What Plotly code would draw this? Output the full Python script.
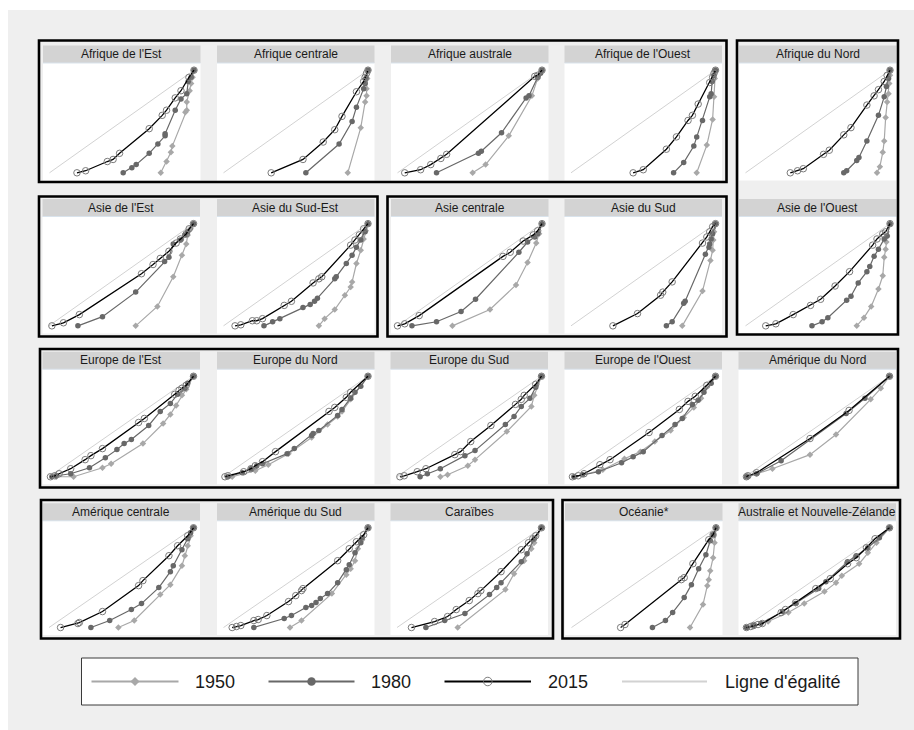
import plotly.graph_objects as go

# ---------------- data ----------------
REGIONS = [
    "Afrique de l'Est", "Afrique centrale", "Afrique australe", "Afrique de l'Ouest", "Afrique du Nord",
    "Asie de l'Est", "Asie du Sud-Est", "Asie centrale", "Asie du Sud", "Asie de l'Ouest",
    "Europe de l'Est", "Europe du Nord", "Europe du Sud", "Europe de l'Ouest", "Amérique du Nord",
    "Amérique centrale", "Amérique du Sud", "Caraïbes", "Océanie*", "Australie et Nouvelle-Zélande",
]

YEARS = ["1950", "1980", "2015"]
EQUALITY_X = [0, 1]
EQUALITY_Y = [0, 1]

P1950 = [
    [(0.77,0),(0.81,0.11),(0.84,0.20),(0.85,0.26),(0.94,0.59),(0.95,0.61),(0.95,0.69),(0.97,0.80),(0.98,0.87),(0.99,0.93),(1,1)],
    [(0.86,0),(0.95,0.44),(0.98,0.69),(0.99,0.75),(0.99,0.82),(0.995,0.92),(1,1)],
    [(0.52,0),(0.61,0.08),(0.77,0.36),(0.93,0.75),(0.97,0.92),(1,1)],
    [(0.87,0),(0.94,0.27),(0.98,0.52),(0.99,0.74),(0.995,0.92),(1,1)],
    [(0.91,0),(0.93,0.06),(0.95,0.20),(0.96,0.31),(0.97,0.54),(0.98,0.69),(0.99,0.77),(0.995,0.87),(1,0.95),(1,1)],
    [(0.60,0),(0.75,0.19),(0.86,0.48),(0.92,0.69),(0.95,0.80),(0.96,0.89),(0.98,0.95),(1,1)],
    [(0.66,0),(0.70,0.07),(0.77,0.16),(0.84,0.30),(0.88,0.38),(0.89,0.43),(0.92,0.61),(0.95,0.74),(0.97,0.85),(0.985,0.93),(1,1)],
    [(0.38,0),(0.64,0.16),(0.82,0.40),(0.90,0.62),(0.96,0.81),(0.98,0.90),(1,1)],
    [(0.77,0),(0.91,0.34),(0.965,0.64),(0.98,0.74),(0.985,0.84),(0.99,0.92),(1,1)],
    [(0.77,0),(0.82,0.08),(0.87,0.19),(0.92,0.36),(0.95,0.49),(0.96,0.67),(0.97,0.75),(0.975,0.82),(0.98,0.88),(1,1)],
    [(0.05,0),(0.17,0),(0.37,0.09),(0.43,0.13),(0.65,0.33),(0.79,0.53),(0.84,0.62),(0.88,0.71),(0.92,0.81),(0.95,0.87),(1,1)],
    [(0.06,0),(0.22,0.06),(0.31,0.12),(0.45,0.23),(0.61,0.39),(0.72,0.52),(0.79,0.60),(0.82,0.65),(0.88,0.77),(1,1)],
    [(0.30,0),(0.35,0.02),(0.49,0.11),(0.54,0.17),(0.76,0.45),(0.93,0.70),(0.95,0.81),(1,1)],
    [(0.03,0),(0.22,0.07),(0.37,0.18),(0.48,0.25),(0.58,0.35),(0.69,0.46),(0.78,0.59),(0.85,0.69),(0.90,0.78),(0.93,0.88),(1,1)],
    [(0.02,0),(0.19,0.08),(0.45,0.22),(0.63,0.42),(0.87,0.77),(0.94,0.88),(1,1)],
    [(0.48,0),(0.59,0.07),(0.77,0.33),(0.84,0.43),(0.92,0.62),(0.94,0.72),(0.96,0.82),(0.98,0.92),(1,1)],
    [(0.46,0),(0.54,0.07),(0.75,0.34),(0.85,0.53),(0.88,0.59),(0.91,0.67),(0.93,0.79),(0.96,0.88),(1,1)],
    [(0.42,0),(0.75,0.38),(0.81,0.54),(0.88,0.67),(0.93,0.79),(0.95,0.85),(1,1)],
    [(0.82,0),(0.91,0.23),(0.94,0.42),(0.95,0.48),(0.96,0.57),(0.98,0.70),(0.99,0.85),(1,1)],
    [(0.02,0),(0.16,0.06),(0.30,0.15),(0.41,0.24),(0.55,0.36),(0.63,0.45),(0.67,0.52),(0.79,0.64),(0.85,0.75),(0.91,0.85),(1,1)],
]

P1980 = [
    [(0.51,0),(0.57,0.05),(0.60,0.08),(0.69,0.19),(0.75,0.28),(0.80,0.36),(0.80,0.38),(0.87,0.61),(0.91,0.72),(0.95,0.77),(0.96,0.89),(0.98,0.93),(1,1)],
    [(0.57,0),(0.80,0.28),(0.89,0.50),(0.92,0.64),(0.97,0.82),(0.98,0.87),(0.985,0.92),(1,1)],
    [(0.27,0),(0.56,0.19),(0.58,0.21),(0.72,0.39),(0.89,0.73),(0.91,0.75),(0.97,0.93),(0.99,0.97),(1,1)],
    [(0.71,0),(0.78,0.10),(0.85,0.26),(0.87,0.35),(0.91,0.51),(0.96,0.74),(0.97,0.77),(0.977,0.89),(0.99,0.95),(1,1)],
    [(0.68,0),(0.70,0.02),(0.77,0.12),(0.785,0.15),(0.84,0.31),(0.92,0.56),(0.96,0.74),(0.975,0.84),(0.99,0.92),(1,1)],
    [(0.20,0),(0.37,0.09),(0.60,0.33),(0.80,0.63),(0.83,0.67),(0.86,0.80),(0.91,0.84),(0.94,0.89),(0.96,0.92),(1,1)],
    [(0.28,0),(0.34,0.04),(0.39,0.07),(0.55,0.18),(0.60,0.21),(0.63,0.24),(0.65,0.27),(0.77,0.46),(0.78,0.48),(0.85,0.61),(0.89,0.69),(0.92,0.77),(0.95,0.84),(0.98,0.92),(1,1)],
    [(0.10,0),(0.27,0.04),(0.44,0.14),(0.54,0.26),(0.84,0.72),(0.90,0.82),(0.95,0.87),(0.97,0.90),(1,1)],
    [(0.66,0),(0.70,0.04),(0.78,0.22),(0.79,0.24),(0.93,0.70),(0.955,0.77),(0.96,0.80),(0.97,0.85),(0.98,0.90),(1,1)],
    [(0.46,0),(0.53,0.04),(0.57,0.08),(0.70,0.25),(0.73,0.29),(0.78,0.42),(0.84,0.53),(0.86,0.58),(0.89,0.68),(0.92,0.75),(0.96,0.85),(0.98,0.88),(1,1)],
    [(0.02,0),(0.05,0.01),(0.15,0.03),(0.28,0.09),(0.39,0.19),(0.47,0.27),(0.52,0.33),(0.57,0.37),(0.69,0.51),(0.77,0.65),(0.84,0.73),(0.89,0.82),(0.94,0.88),(0.96,0.93),(1,1)],
    [(0.03,0),(0.13,0.04),(0.19,0.08),(0.23,0.11),(0.27,0.13),(0.44,0.23),(0.49,0.28),(0.61,0.41),(0.62,0.43),(0.66,0.46),(0.79,0.61),(0.82,0.67),(0.88,0.78),(0.91,0.84),(0.95,0.90),(1,1)],
    [(0.16,0),(0.21,0.03),(0.30,0.08),(0.47,0.21),(0.54,0.26),(0.75,0.52),(0.81,0.60),(0.86,0.70),(0.92,0.78),(0.96,0.89),(1,1)],
    [(0.02,0),(0.08,0.02),(0.19,0.05),(0.35,0.14),(0.43,0.20),(0.50,0.25),(0.63,0.41),(0.72,0.52),(0.77,0.58),(0.84,0.72),(0.88,0.76),(0.92,0.84),(0.97,0.93),(1,1)],
    [(0.01,0),(0.08,0.03),(0.25,0.16),(0.70,0.63),(0.83,0.78),(1,1)],
    [(0.29,0),(0.42,0.07),(0.57,0.18),(0.64,0.24),(0.76,0.40),(0.84,0.56),(0.86,0.62),(0.92,0.78),(0.96,0.89),(0.98,0.95),(1,1)],
    [(0.21,0),(0.42,0.09),(0.47,0.12),(0.57,0.20),(0.61,0.22),(0.64,0.25),(0.67,0.29),(0.72,0.34),(0.79,0.45),(0.85,0.58),(0.87,0.63),(0.91,0.75),(0.95,0.85),(0.96,0.90),(1,1)],
    [(0.20,0),(0.33,0.07),(0.47,0.14),(0.64,0.33),(0.69,0.40),(0.72,0.45),(0.86,0.66),(0.90,0.74),(0.95,0.89),(1,1)],
    [(0.56,0),(0.65,0.07),(0.70,0.15),(0.78,0.30),(0.83,0.43),(0.88,0.59),(0.93,0.73),(0.96,0.87),(0.98,0.93),(1,1)],
    [(0.01,0),(0.06,0.02),(0.11,0.04),(0.26,0.16),(0.35,0.24),(0.51,0.39),(0.56,0.46),(0.71,0.66),(0.77,0.72),(0.85,0.80),(0.93,0.90),(1,1)],
]

P2015 = [
    [(0.19,0),(0.25,0.02),(0.40,0.11),(0.44,0.13),(0.485,0.19),(0.69,0.43),(0.78,0.56),(0.81,0.61),(0.87,0.73),(0.91,0.80),(0.965,0.93),(1,1)],
    [(0.33,0),(0.55,0.13),(0.69,0.30),(0.77,0.42),(0.82,0.55),(0.92,0.79),(0.97,0.89),(0.98,0.93),(0.99,0.97),(1,1)],
    [(0.05,0),(0.16,0.03),(0.23,0.08),(0.30,0.14),(0.34,0.18),(0.95,0.94),(0.97,0.95),(1,1)],
    [(0.43,0),(0.50,0.03),(0.66,0.23),(0.73,0.35),(0.81,0.51),(0.84,0.56),(0.88,0.67),(0.96,0.88),(0.98,0.93),(0.99,0.97),(1,1)],
    [(0.31,0),(0.36,0.02),(0.40,0.04),(0.54,0.18),(0.58,0.22),(0.68,0.37),(0.73,0.44),(0.84,0.66),(0.89,0.75),(0.92,0.81),(0.96,0.89),(0.98,0.95),(1,1)],
    [(0.02,0),(0.10,0.03),(0.21,0.11),(0.64,0.51),(0.72,0.60),(0.77,0.66),(0.83,0.73),(0.88,0.81),(0.91,0.85),(0.95,0.90),(0.97,0.95),(1,1)],
    [(0.08,0),(0.12,0.01),(0.20,0.05),(0.23,0.05),(0.27,0.07),(0.42,0.20),(0.47,0.24),(0.62,0.42),(0.66,0.46),(0.68,0.48),(0.88,0.79),(0.91,0.84),(0.94,0.89),(0.97,0.95),(1,1)],
    [(0.0,0),(0.05,0.02),(0.15,0.10),(0.73,0.68),(0.78,0.72),(0.87,0.83),(0.94,0.89),(0.97,0.93),(1,1)],
    [(0.29,0),(0.46,0.12),(0.62,0.30),(0.635,0.33),(0.70,0.43),(0.91,0.81),(0.94,0.87),(0.96,0.92),(0.98,0.97),(1,1)],
    [(0.14,0),(0.21,0.02),(0.33,0.11),(0.45,0.20),(0.52,0.26),(0.62,0.39),(0.72,0.53),(0.88,0.79),(0.91,0.85),(0.95,0.90),(0.97,0.92),(1,1)],
    [(0.01,0),(0.04,0.01),(0.07,0.03),(0.15,0.08),(0.25,0.17),(0.29,0.21),(0.37,0.28),(0.62,0.54),(0.66,0.58),(0.87,0.82),(0.90,0.86),(0.92,0.88),(0.95,0.91),(1,1)],
    [(0.01,0),(0.03,0.01),(0.14,0.05),(0.19,0.08),(0.22,0.11),(0.27,0.15),(0.36,0.25),(0.73,0.65),(0.77,0.69),(0.85,0.79),(0.88,0.84),(1,1)],
    [(0.02,0),(0.05,0.01),(0.14,0.05),(0.20,0.08),(0.40,0.22),(0.44,0.25),(0.51,0.35),(0.65,0.51),(0.82,0.72),(0.86,0.77),(0.88,0.81),(0.96,0.92),(1,1)],
    [(0.01,0),(0.05,0.01),(0.09,0.03),(0.20,0.12),(0.27,0.17),(0.54,0.44),(0.75,0.67),(0.81,0.75),(0.86,0.80),(0.94,0.91),(1,1)],
    [(0.01,0),(0.02,0.01),(0.08,0.04),(0.45,0.38),(0.72,0.66),(1,1)],
    [(0.08,0),(0.20,0.04),(0.21,0.05),(0.37,0.16),(0.62,0.42),(0.65,0.47),(0.83,0.72),(0.89,0.82),(0.96,0.92),(1,1)],
    [(0.06,0),(0.09,0.01),(0.12,0.02),(0.21,0.07),(0.24,0.08),(0.30,0.12),(0.45,0.26),(0.50,0.32),(0.54,0.37),(0.55,0.39),(0.79,0.67),(0.87,0.79),(0.92,0.86),(0.97,0.93),(1,1)],
    [(0.10,0),(0.26,0.06),(0.35,0.11),(0.41,0.18),(0.50,0.27),(0.56,0.34),(0.58,0.37),(0.72,0.56),(0.86,0.78),(0.91,0.85),(0.94,0.89),(0.96,0.92),(1,1)],
    [(0.34,0),(0.37,0.03),(0.76,0.48),(0.78,0.50),(0.84,0.64),(0.95,0.88),(0.98,0.93),(1,1)],
    [(0.01,0),(0.04,0.01),(0.06,0.02),(0.09,0.03),(0.12,0.04),(0.25,0.15),(0.28,0.18),(0.35,0.25),(0.49,0.39),(0.59,0.49),(0.71,0.64),(0.77,0.70),(0.84,0.80),(0.90,0.89),(1,1)],
]

LEGEND_LABELS = ["1950", "1980", "2015", "Ligne d'égalité"]

# ---------------- layout geometry (pixels) ----------------
W, H = 914, 730
PANEL_W = 157.5
HEAD_H = 17.5
# header top and plot bottom per row
ROWS = [(45.5, 180.5), (199.0, 333.5), (351.7, 484.3), (503.3, 635.0)]
PANEL_LEFT = [
    43, 217, 391, 564.5, 739,
    42.5, 217, 391, 564.5, 739,
    42.5, 217, 390.5, 564.5, 738.5,
    42.5, 217, 390.5, 565, 738.5,
]
PANEL_ROW = [0]*5 + [1]*5 + [2]*5 + [3]*5
BOXES = [
    (39, 40.5, 726.5, 182), (737, 40.5, 898, 334.5),
    (39, 196.5, 377.5, 336.5), (387.5, 196.5, 726.5, 336.5),
    (40, 349, 898, 487.5),
    (41, 500, 553, 638.5), (562.5, 500, 900, 638.5),
]

STYLE = {
    "1950": dict(line=dict(color="#a8a8a8", width=1.2),
                 marker=dict(symbol="diamond", size=5, color="#a8a8a8")),
    "1980": dict(line=dict(color="#686868", width=1.2),
                 marker=dict(symbol="circle", size=5.5, color="#686868")),
    "2015": dict(line=dict(color="#000000", width=1.3),
                 marker=dict(symbol="circle-open", size=6.5, color="#7a7a7a", line=dict(width=1))),
}
EQ_COLOR = "#d2d2d2"
FONT = "Liberation Sans, Arial, sans-serif"


def fx(x):
    return x / W


def fy(y):
    return 1 - y / H


fig = go.Figure()
layout = {}
shapes = []
annotations = []

# background
shapes.append(dict(type="rect", xref="paper", yref="paper", x0=fx(8), x1=fx(914), y0=fy(730), y1=fy(10),
                   fillcolor="#efefef", line=dict(width=0), layer="below"))

series = {"1950": P1950, "1980": P1980, "2015": P2015}

for i, name in enumerate(REGIONS):
    k = i + 1
    left = PANEL_LEFT[i]
    top, bottom = ROWS[PANEL_ROW[i]]
    xa = "xaxis" if k == 1 else f"xaxis{k}"
    ya = "yaxis" if k == 1 else f"yaxis{k}"
    xr = "x" if k == 1 else f"x{k}"
    yr = "y" if k == 1 else f"y{k}"
    layout[xa] = dict(domain=[fx(left), fx(left + PANEL_W)], range=[-0.045, 1.045], visible=False,
                      fixedrange=True, anchor=yr)
    layout[ya] = dict(domain=[fy(bottom), fy(top + HEAD_H)], range=[-0.075, 1.07], visible=False,
                      fixedrange=True, anchor=xr)
    # white plotting area
    shapes.append(dict(type="rect", xref="paper", yref="paper", x0=fx(left), x1=fx(left + PANEL_W),
                       y0=fy(bottom), y1=fy(top + HEAD_H), fillcolor="white",
                       line=dict(width=0), layer="below"))
    # equality line
    fig.add_trace(go.Scatter(x=EQUALITY_X, y=EQUALITY_Y, mode="lines", xaxis=xr, yaxis=yr,
                             line=dict(color=EQ_COLOR, width=1), showlegend=False, hoverinfo="skip"))
    for yr_name in YEARS:
        pts = series[yr_name][i]
        fig.add_trace(go.Scatter(x=[p[0] for p in pts], y=[p[1] for p in pts], mode="lines+markers",
                                 xaxis=xr, yaxis=yr, showlegend=False, name=yr_name,
                                 **STYLE[yr_name]))
    # strip header
    shapes.append(dict(type="rect", xref="paper", yref="paper", x0=fx(left), x1=fx(left + PANEL_W),
                       y0=fy(top + HEAD_H), y1=fy(top), fillcolor="#d3d3d3",
                       line=dict(width=0), layer="below"))
    shapes.append(dict(type="line", xref="paper", yref="paper", x0=fx(left), x1=fx(left + PANEL_W),
                       y0=fy(top + HEAD_H), y1=fy(top + HEAD_H), line=dict(color="#d9e3ec", width=1),
                       layer="below"))
    annotations.append(dict(text=name, xref="paper", yref="paper", x=fx(left + PANEL_W / 2),
                            y=fy(top + HEAD_H / 2), xanchor="center", yanchor="middle", showarrow=False,
                            font=dict(family=FONT, size=12, color="#1a1a1a")))

for (x0, y0, x1, y1) in BOXES:
    shapes.append(dict(type="rect", xref="paper", yref="paper", x0=fx(x0), x1=fx(x1), y0=fy(y1), y1=fy(y0),
                       line=dict(color="#000000", width=2.6), fillcolor="rgba(0,0,0,0)", layer="above"))

# ---------------- legend (drawn in its own pixel-scaled axis) ----------------
LX0, LY0, LX1, LY1 = 81.5, 658, 858, 705
k = len(REGIONS) + 1
layout[f"xaxis{k}"] = dict(domain=[fx(LX0), fx(LX1)], range=[LX0, LX1], visible=False, fixedrange=True,
                           anchor=f"y{k}")
layout[f"yaxis{k}"] = dict(domain=[fy(LY1), fy(LY0)], range=[LY1, LY0], visible=False, fixedrange=True,
                           anchor=f"x{k}")
shapes.append(dict(type="rect", xref="paper", yref="paper", x0=fx(LX0), x1=fx(LX1), y0=fy(LY1), y1=fy(LY0),
                   line=dict(color="#3a3a3a", width=1), fillcolor="white", layer="below"))
LEG_ITEMS = [(91.5, 178.5, 192.5), (268.5, 354.5, 369), (444.5, 531, 546), (622, 707, 723)]
LEG_MARKER_SIZE = {"1950": 7, "1980": 8.5, "2015": 8.5}
LEG_Y = 681.5
for lab, (a, b, t) in zip(LEGEND_LABELS, LEG_ITEMS):
    if lab in STYLE:
        st = STYLE[lab]
        fig.add_trace(go.Scatter(x=[a, b], y=[LEG_Y, LEG_Y], mode="lines", xaxis=f"x{k}", yaxis=f"y{k}",
                                 line=dict(color=st["line"]["color"], width=2), showlegend=False,
                                 hoverinfo="skip"))
        mk = dict(st["marker"])
        mk["size"] = LEG_MARKER_SIZE[lab]
        fig.add_trace(go.Scatter(x=[(a + b) / 2], y=[LEG_Y], mode="markers", xaxis=f"x{k}", yaxis=f"y{k}",
                                 marker=mk, showlegend=False, hoverinfo="skip"))
    else:
        fig.add_trace(go.Scatter(x=[a, b], y=[LEG_Y, LEG_Y], mode="lines", xaxis=f"x{k}", yaxis=f"y{k}",
                                 line=dict(color=EQ_COLOR, width=2), showlegend=False, hoverinfo="skip"))
    annotations.append(dict(text=lab, xref="paper", yref="paper", x=fx(t), y=fy(LEG_Y), xanchor="left",
                            yanchor="middle", showarrow=False,
                            font=dict(family=FONT, size=18, color="#1a1a1a")))

fig.update_layout(
    width=W, height=H, margin=dict(l=0, r=0, t=0, b=0),
    paper_bgcolor="white", plot_bgcolor="rgba(0,0,0,0)",
    shapes=shapes, annotations=annotations, showlegend=False,
    **layout,
)

fig.write_html("out.html", config={"displayModeBar": False},
               post_script="document.body.style.margin='0';document.body.style.overflow='hidden';")
